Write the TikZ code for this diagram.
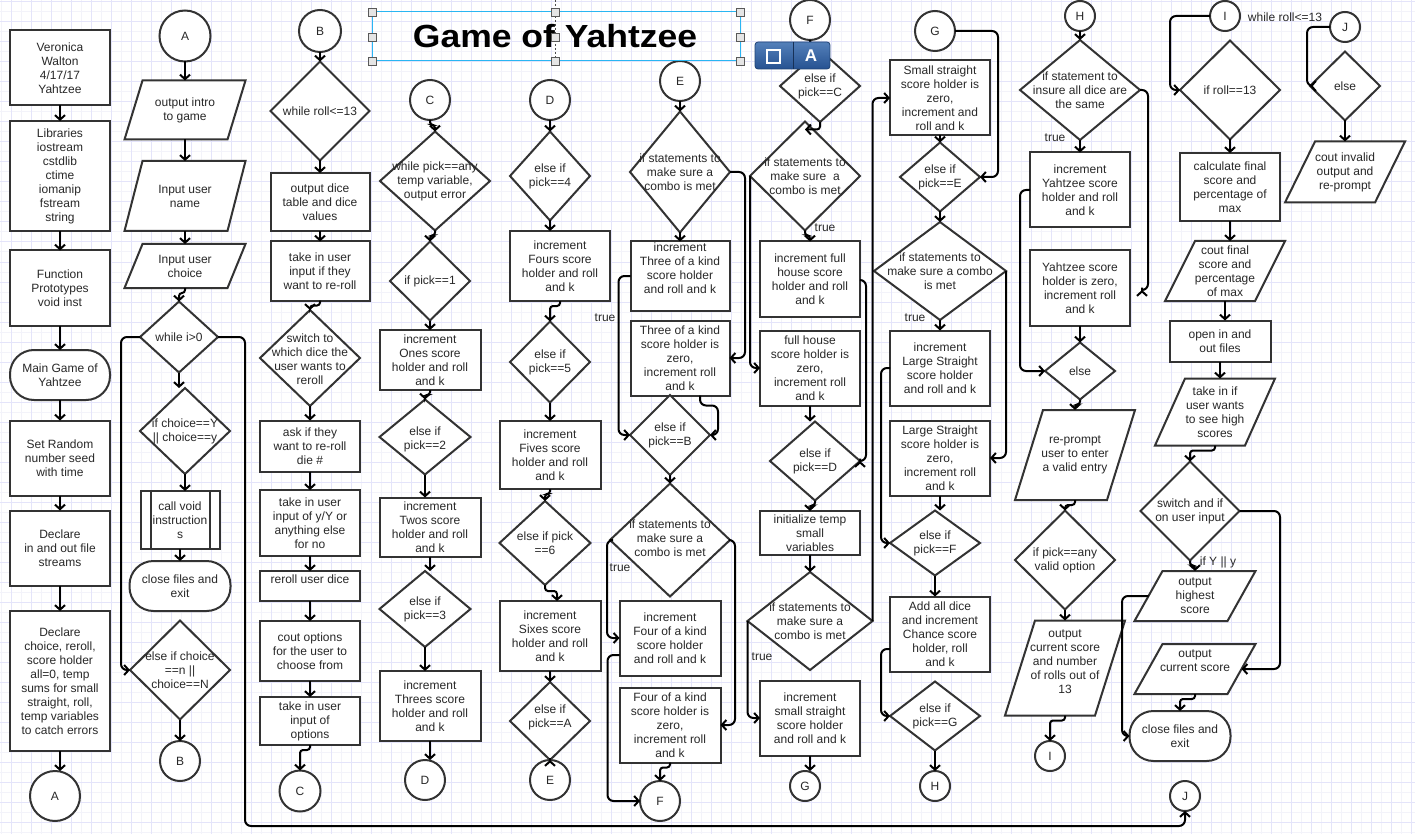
\documentclass[tikz,border=0pt]{standalone}
\usepackage{fontspec}
\usepackage{graphicx}
\setmainfont{Liberation Sans}
\usetikzlibrary{shapes.geometric,arrows.meta,calc}
\definecolor{shpc}{RGB}{51,51,51}
\definecolor{txtc}{RGB}{40,40,40}
\definecolor{gridA}{RGB}{243,243,250}
\definecolor{gridB}{RGB}{228,228,250}
\definecolor{selc}{RGB}{41,182,242}
\definecolor{tbtop}{RGB}{84,128,186}
\definecolor{tbbot}{RGB}{38,82,145}
\newcommand\mytf{\fontsize{12}{14}\selectfont}
\tikzset{
 shp/.style={draw=shpc, line width=2pt, fill=white, inner sep=0pt, outer sep=0pt},
 txt/.style={text=txtc, font=\mytf, align=center, inner sep=0pt},
 arr/.style={draw=black, line width=2pt, rounded corners=6pt, -{Straight Barb[length=4.5pt,width=10pt]}},
 gl/.style={draw=gridA, line width=1pt},
 gm/.style={draw=gridB, line width=1pt},
}
% [yoff]{name}{x}{y}{w}{h}{text}
\newcommand\nRB[7][0]{\node[shp,rectangle,minimum width=#5pt,minimum height=#6pt] (#2) at (#3,#4) {};
 \node[txt] (#2t) at ($(#2)+(0,#1)$) {#7};}
\newcommand\nDI[7][0]{\node[shp,diamond,minimum width=#5pt,minimum height=#6pt] (#2) at (#3,#4) {};
 \node[txt] (#2t) at ($(#2)+(0,#1)$) {#7};}
\newcommand\nCI[5]{\node[shp,circle,minimum size=#4pt,font=\mytf,text=txtc] (#1) at (#2,#3) {#5};}
\newcommand\nTE[6]{\node[shp,rectangle,rounded corners=24pt,minimum width=#4pt,minimum height=#5pt] (#1) at (#2,#3) {};
 \node[txt] (#1t) at (#1) {#6};}
% [yoff]{name}{x}{y}{w}{h}{slant}{text}
\newcommand\nPA[8][0]{\node[inner sep=0pt,outer sep=0pt,minimum width=#5pt,minimum height=#6pt] (#2) at (#3,#4) {};
 \draw[shp] ([xshift=#7pt]#2.north west) -- (#2.north east) -- ([xshift=-#7pt]#2.south east) -- (#2.south west) -- cycle;
 \node[txt] (#2t) at ($(#2)+(0,#1)$) {#8};}
\newcommand\nVA[2]{\draw[arr] (#1.south) -- (#1.south |- #2.north);}
\newcommand\nCA[2]{\draw[arr,rounded corners=3pt] (#1.south) -- ++(0,5) -| (#2.north);}
\begin{document}
\begin{tikzpicture}[x=1pt,y=-1pt]
\useasboundingbox (0,0) rectangle (1415,834);
\fill[white] (0,0) rectangle (1415,834);
\foreach \i in {1,11,...,1411} {\draw[gl] (\i,0) -- (\i,834);}
\foreach \i in {2,12,...,832} {\draw[gl] (0,\i) -- (1415,\i);}
\foreach \i in {11,31,...,1411} {\draw[gm] (\i,0) -- (\i,834);}
\foreach \i in {2,22,...,832} {\draw[gm] (0,\i) -- (1415,\i);}

% ---------- column 1
\nRB{v1}{60}{68}{100}{75}{Veronica\\Walton\\4/17/17\\Yahtzee}
\nRB{v2}{60}{176}{100}{110}{Libraries\\iostream\\cstdlib\\ctime\\iomanip\\fstream\\string}
\nRB{v3}{60}{288}{100}{75}{Function\\Prototypes\\void inst}
\nTE{v4}{60}{375}{100}{50}{Main Game of\\Yahtzee}
\nRB{v5}{60}{458}{100}{75}{Set Random\\number seed\\with time}
\nRB{v6}{60}{548}{100}{75}{Declare\\in and out file\\streams}
\nRB{v7}{60}{681}{100}{140}{Declare\\choice, reroll,\\score holder\\all=0, temp\\sums for small\\straight, roll,\\temp variables\\to catch errors}
\nCI{cA1}{55}{796}{50}{A}

% ---------- column 2
\nCI{cA2}{185}{36}{51}{A}
\nPA{p1}{185}{110}{121}{59}{18}{output intro\\to game}
\nPA{p2}{185}{196}{121}{70}{18}{Input user\\name}
\nPA{p3}{185}{266}{121}{44}{18}{Input user\\choice}
\nDI{d1}{179}{337}{78}{71}{while i>0}
\nDI{d2}{185}{431}{90}{86}{if choice==Y\\|| choice==y}
\nRB{pp}{180}{520}{79}{58}{call void\\instruction\\s}
\draw[draw=shpc,line width=2pt] ([xshift=10pt]pp.north west) -- ([xshift=10pt]pp.south west)
  ([xshift=-10pt]pp.north east) -- ([xshift=-10pt]pp.south east);
\nTE{t2}{180}{586}{101}{50}{close files and\\exit}
\nDI{d3}{180}{670}{100}{99}{else if choice\\==n ||\\choice==N}
\nCI{cB1}{180}{761}{40}{B}

% ---------- column 3
\nCI{cB2}{320}{31}{42}{B}
\nDI{d4}{320}{111}{99}{99}{while roll<=13}
\nRB{r31}{320}{202}{99}{58}{output dice\\table and dice\\values}
\nRB{r32}{320}{271}{99}{59}{take in user\\input if they\\want to re-roll}
\nDI[1]{d5}{310}{358}{100}{96}{switch to\\which dice the\\user wants to\\reroll}
\nRB{r33}{310}{446}{100}{51}{ask if they\\want to re-roll\\die \#}
\nRB{r34}{310}{523}{100}{66}{take in user\\input of y/Y or\\anything else\\for no}
\nRB[-7]{r35}{310}{586}{100}{30}{reroll user dice}
\nRB{r36}{310}{651}{100}{60}{cout options\\for the user to\\choose from}
\nRB{r37}{310}{721}{100}{48}{take in user\\input of\\options}
\nCI{cC1}{300}{791}{41}{C}

% ---------- column 4
\nCI{cC2}{430}{100}{40}{C}
\nDI{d6}{435}{181}{110}{99}{while pick==any\\temp variable,\\output error}
\nDI{d7}{430}{281}{80}{79}{if pick==1}
\nRB{r41}{430}{360}{101}{60}{increment\\Ones score\\holder and roll\\and k}
\nDI[2]{d8}{425}{437}{91}{75}{else if\\pick==2}
\nRB{r42}{430}{527}{101}{59}{increment\\Twos score\\holder and roll\\and k}
\nDI{d9}{425}{609}{91}{76}{else if\\pick==3}
\nRB{r43}{430}{706}{101}{70}{increment\\Threes score\\holder and roll\\and k}
\nCI{cD1}{425}{780}{40}{D}

% ---------- column 5
\nCI{cD2}{550}{100}{40}{D}
\nDI{d10}{550}{176}{80}{89}{else if\\pick==4}
\nRB{r51}{560}{266}{100}{70}{increment\\Fours score\\holder and roll\\and k}
\nDI{d11}{550}{362}{80}{81}{else if\\pick==5}
\nRB{r52}{550}{455}{101}{68}{increment\\Fives score\\holder and roll\\and k}
\nDI{d12}{545}{543}{91}{84}{else if pick\\==6}
\nRB{r53}{550}{636}{101}{70}{increment\\Sixes score\\holder and roll\\and k}
\nDI[-4]{d13}{550}{721}{80}{78}{else if\\pick==A}
\nCI{cE1}{550}{780}{40}{E}

% ---------- column 6
\nCI{cE2}{680}{81}{40}{E}
\nDI{d14}{680}{172}{100}{121}{if statements to\\make sure a\\combo is met}
\nRB[-8]{r61}{680}{276}{99}{69}{increment\\Three of a kind\\score holder\\and roll and k}
\nRB{r62}{680}{358}{99}{75}{Three of a kind\\score holder is\\zero,\\increment roll\\and k}
\nDI{d15}{670}{435}{80}{80}{else if\\pick==B}
\nDI[-2]{d16}{670}{540}{120}{113}{if statements to\\make sure a\\combo is met}
\nRB{r63}{670}{638}{101}{75}{increment\\Four of a kind\\score holder\\and roll and k}
\nRB{r64}{670}{725}{101}{75}{Four of a kind\\score holder is\\zero,\\increment roll\\and k}
\nCI{cF1}{660}{801}{40}{F}
\node[txt] (lt1) at (605,318) {true};
\node[txt] (lt2) at (620,568) {true};

% ---------- column 7
\nCI{cF2}{810}{20}{40}{F}
\nDI{d17}{820}{86}{80}{72}{else if\\pick==C}
\nDI{d18}{805}{176}{110}{109}{if statements to\\make sure\ \ a\\combo is met}
\nRB{r71}{810}{279}{100}{75}{increment full\\house score\\holder and roll\\and k}
\nRB{r72}{810}{368}{100}{75}{full house\\score holder is\\zero,\\increment roll\\and k}
\nDI{d19}{815}{461}{90}{79}{else if\\pick==D}
\nRB{r73}{810}{533}{100}{44}{initialize temp\\small\\variables}
\nDI{d20}{810}{621}{125}{98}{if statements to\\make sure a\\combo is met}
\nRB{r74}{810}{718}{100}{75}{increment\\small straight\\score holder\\and roll and k}
\nCI{cG1}{805}{786}{30}{G}
\node[txt] (lt3) at (825,228) {true};
\node[txt] (lt4) at (762,657) {true};

% ---------- column 8
\nCI{cG2}{935}{31}{40}{G}
\nRB{rs}{940}{98}{100}{75}{Small straight\\score holder is\\zero,\\increment and\\roll and k}
\nDI{d21}{940}{177}{80}{69}{else if\\pick==E}
\nDI{d22}{940}{271}{132}{98}{if statements to\\make sure a combo\\is met}
\nRB{r81}{940}{368}{100}{75}{increment\\Large Straight\\score holder\\and roll and k}
\nRB{r82}{940}{458}{100}{75}{Large Straight\\score holder is\\zero,\\increment roll\\and k}
\nDI{d23}{935}{543}{90}{65}{else if\\pick==F}
\nRB{r83}{940}{634}{100}{75}{Add all dice\\and increment\\Chance score\\holder, roll\\and k}
\nDI{d24}{935}{716}{90}{69}{else if\\pick==G}
\nCI{cH1}{935}{786}{30}{H}
\node[txt] (lt5) at (915,318) {true};

% ---------- column 9
\nCI{cH2}{1080}{16}{30}{H}
\nDI{d25}{1080}{90}{120}{100}{if statement to\\insure all dice are\\the same}
\nRB{r91}{1080}{190}{100}{75}{increment\\Yahtzee score\\holder and roll\\and k}
\nRB{r92}{1080}{288}{100}{75}{Yahtzee score\\holder is zero,\\increment roll\\and k}
\nDI{d26}{1080}{371}{70}{57}{else}
\nPA{p91}{1075}{455}{120}{90}{28}{re-prompt\\user to enter\\a valid entry}
\nDI{d27}{1065}{560}{100}{99}{if pick==any\\valid option}
\nPA[-6]{p92}{1065}{668}{120}{95}{30}{output\\current score\\and number\\of rolls out of\\13}
\nCI{cI1}{1050}{756}{30}{I}
\node[txt] (lt6) at (1055,138) {true};

% ---------- column 10
\nCI{cI2}{1225}{16}{30}{I}
\node[txt] (lwr) at (1285,17) {while roll<=13};
\nDI{d28}{1230}{90}{100}{99}{if roll==13}
\nRB{r101}{1230}{187}{100}{68}{calculate final\\score and\\percentage of\\max}
\nPA{p101}{1225}{271}{120}{60}{30}{cout final\\score and\\percentage\\of max}
\nRB{r102}{1220}{341}{101}{41}{open in and\\out files}
\nPA{p102}{1215}{412}{120}{67}{30}{take in if\\user wants\\to see high\\scores}
\nDI{d29}{1190}{511}{99}{99}{switch and if\\on user input}
\nPA{p103}{1195}{596}{121}{50}{28}{output\\highest\\score}
\nPA[-8]{p104}{1195}{669}{121}{50}{28}{output\\current score}
\nTE{t3}{1180}{736}{101}{50}{close files and\\exit}
\nCI{cJ2}{1185}{796}{30}{J}
\node[txt] (lif) at (1218,562) {if Y || y};

% ---------- column 11
\nCI{cJ1}{1345}{27}{30}{J}
\nDI{d30}{1345}{86}{70}{69}{else}
\nPA{p111}{1345}{172}{120}{61}{30}{cout invalid\\output and\\re-prompt}

% ---------- connectors
\nVA{v1}{v2} \nVA{v2}{v3} \nVA{v3}{v4} \nVA{v4}{v5} \nVA{v5}{v6} \nVA{v6}{v7} \nVA{v7}{cA1}

\nVA{cA2}{p1} \nVA{p1}{p2} \nVA{p2}{p3} \nCA{p3}{d1} \nVA{d1}{d2} \nVA{d2}{pp} \nVA{pp}{t2} \nVA{d3}{cB1}
\draw[arr] (d1.west) -- ++(-19,0) |- (d3.west);
\draw[arr] (d1.east) -- (245,337) -- (245,826) -| (cJ2.south);

\nVA{cB2}{d4} \nVA{d4}{r31} \nVA{r31}{r32} \nCA{r32}{d5} \nVA{d5}{r33} \nVA{r33}{r34}
\nVA{r34}{r35} \nVA{r35}{r36} \nVA{r36}{r37} \nCA{r37}{cC1}

\nCA{cC2}{d6} \nCA{d6}{d7} \nVA{d7}{r41} \nCA{r41}{d8} \nVA{d8}{r42} \nVA{r42}{d9} \nVA{d9}{r43} \nVA{r43}{cD1}

\nVA{cD2}{d10} \nVA{d10}{r51} \nCA{r51}{d11} \nVA{d11}{r52} \nCA{r52}{d12}
\draw[arr,rounded corners=3pt] (d12.south) -- ++(0,6) -| ([xshift=7pt]r53.north);
\nVA{r53}{d13} \nVA{d13}{cE1}

\nCA{cE2}{d14} \nVA{d14}{r61}
\draw[arr] (r61.west) -- ++(-12,0) |- (d15.west);
\draw[arr] (d14.east) -- ++(15,0) |- (r62.east);
\draw[arr] ([xshift=20pt]r62.south) -- ++(0,10) -- ++(18,0) |- (d15.east);
\nVA{d15}{d16}
\draw[arr] (d16.west) -- ++(-3,0) |- (r63.west);
\draw[arr] ([yshift=-17pt]r63.west) -- ++(-12,0) |- (cF1.west);
\draw[arr] (d16.east) -- ++(5,0) |- (r64.east);
\nCA{r64}{cF1}

\draw[arr,rounded corners=3pt] (cF2.south) -- ++(0,4) -| (d17.north);
\draw[arr,rounded corners=3pt] (d17.south) |- ([yshift=-8pt]d18.north);
\nCA{d18}{r71}
\draw[arr] (d18.west) |- (r72.west);
\draw[arr] ([yshift=-1pt]r71.east) -- ++(6,0) |- (d19.east);
\nVA{r72}{d19} \nCA{d19}{r73} \nVA{r73}{d20}
\draw[arr] (d20.west) |- (r74.west);
\draw[arr] (d20.east) |- (rs.west);
\nVA{r74}{cG1}

\draw[arr] (cG2.east) -- ++(43,0) |- (d21.east);
\nVA{rs}{d21} \nVA{d21}{d22} \nVA{d22}{r81}
\draw[arr] (d22.east) |- (r82.east);
\draw[arr] (r81.west) -- ++(-9,0) |- (d23.west);
\nVA{r82}{d23} \nVA{d23}{r83}
\draw[arr] ([yshift=-15pt]r83.west) -- ++(-9,0) |- (d24.west);
\nVA{d24}{cH1}

\nVA{cH2}{d25} \nVA{d25}{r91}
\draw[arr] (d25.east) -- ++(8,0) |- ([xshift=12pt,yshift=-2pt]r92.east);
\draw[arr] (r91.west) -- ++(-10,0) |- (d26.west);
\nVA{r92}{d26} \nCA{d26}{p91} \nCA{p91}{d27} \nVA{d27}{p92} \nCA{p92}{cI1}

\draw[arr] (cI2.west) -- (1170,16) |- (d28.west);
\nVA{d28}{r101} \nVA{r101}{p101} \nVA{p101}{r102} \nVA{r102}{p102} \nCA{p102}{d29} \nCA{d29}{p103}
\draw[arr] (d29.east) -- (1280,511) |- ([xshift=-14pt]p104.east);
\draw[arr] ([xshift=14pt]p103.west) -- (1122,596) |- (t3.west);
\nCA{p104}{t3}

\draw[arr] (cJ1.west) -- (1307,27) |- (d30.west);
\nVA{d30}{p111}

% ---------- title with selection overlay
\node[font=\bfseries\fontsize{32}{38}\selectfont, text=black, inner sep=0pt] (title) at (555,36) {\scalebox{1.11}[1]{Game of Yahtzee}};
\draw[selc, line width=1pt] (372,12) rectangle (740,61);
\draw[black!70, line width=0.8pt, dash pattern=on 2pt off 2pt] (555,0) -- (555,61);
\foreach \hx/\hy in {372/12,555/12,740/12,372/37,555/37,740/37,372/61,555/61,740/61}
  {\draw[draw=gray!70!black, fill=gray!20, line width=0.7pt] (\hx-4,\hy-4) rectangle (\hx+4,\hy+4);}

% ---------- toolbar
\shade[top color=tbtop, bottom color=tbbot, rounded corners=3pt] (755,42) rectangle (830,69);
\draw[tbbot!80!black, line width=0.8pt, rounded corners=3pt] (755,42) rectangle (830,69);
\draw[tbbot!60!black, line width=1pt] (793,42) -- (793,69);
\draw[white, line width=1.2pt] (767,50) rectangle (780,63);
\node[text=white, font=\bfseries\fontsize{17}{17}\selectfont, inner sep=0pt] (tbA) at (811,56) {A};
\end{tikzpicture}
\end{document}
